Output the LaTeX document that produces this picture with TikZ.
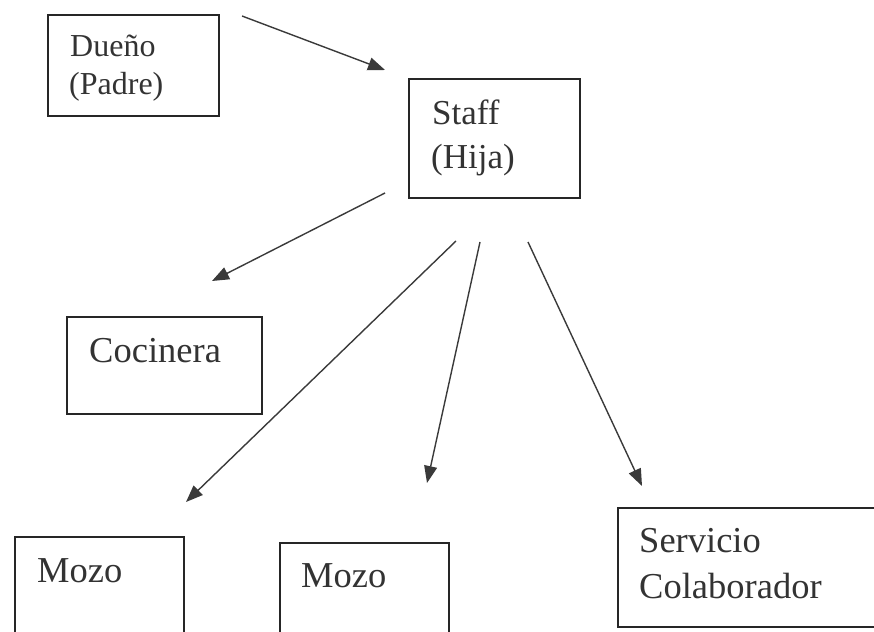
\documentclass[tikz,border=0pt]{standalone}
\usepackage{fontspec}
\setmainfont{Liberation Serif}
\usetikzlibrary{arrows.meta}
\definecolor{ink}{HTML}{262626}
\definecolor{txt}{HTML}{333333}
\definecolor{arr}{HTML}{3A3A3A}
\tikzset{
  box/.style={draw=ink, line width=2pt, rectangle, inner sep=0pt, anchor=north west},
  lbl/.style={text=txt, inner sep=0pt, anchor=base west},
  big/.style={lbl, font=\fontsize{36.5}{42}\selectfont},
  small/.style={lbl, font=\fontsize{32}{38}\selectfont},
  conn/.style={draw=arr, line width=1.4pt, -{Triangle[length=17pt,width=13pt]}}
}
\begin{document}
\begin{tikzpicture}[x=1pt,y=-1pt]
\useasboundingbox (0,0) rectangle (874,631);
\clip (0,0) rectangle (874,631);
% boxes
\node[box, minimum width=171pt, minimum height=101pt] (dueno) at (47,14) {};
\node[box, minimum width=171pt, minimum height=119pt] (staff) at (408,78) {};
\node[box, minimum width=195pt, minimum height=97pt] (coc) at (66,316) {};
\node[box, minimum width=169pt, minimum height=100pt] (mozoA) at (14,536) {};
\node[box, minimum width=169pt, minimum height=100pt] (mozoB) at (279,542) {};
\node[box, minimum width=270pt, minimum height=119pt] (serv) at (617,507) {};
% texts
\node[small] (t1) at (70,57) {Dueño};
\node[small] (t2) at (69,95) {(Padre)};
\node[big, font=\fontsize{35}{42}\selectfont] (t3) at (432,125) {Staff};
\node[big, font=\fontsize{35}{42}\selectfont] (t4) at (431,168) {(Hija)};
\node[big] (t5) at (89,362) {Cocinera};
\node[big] (t6) at (37,582) {Mozo};
\node[big] (t7) at (301,587) {Mozo};
\node[big] (t8) at (639,552) {Servicio};
\node[big] (t9) at (639,598) {Colaborador};
% connector ends
\coordinate (s1) at (242,16);  \coordinate (e1) at (385,70);
\coordinate (s2) at (385,193); \coordinate (e2) at (212,281);
\coordinate (s3) at (456,241); \coordinate (e3) at (186,502);
\coordinate (s4) at (480,242); \coordinate (e4) at (427,483);
\coordinate (s5) at (528,242); \coordinate (e5) at (642,486);
\draw[conn] (s1) -- (e1);
\draw[conn] (s2) -- (e2);
\draw[conn] (s3) -- (e3);
\draw[conn] (s4) -- (e4);
\draw[conn] (s5) -- (e5);
\end{tikzpicture}
\end{document}
